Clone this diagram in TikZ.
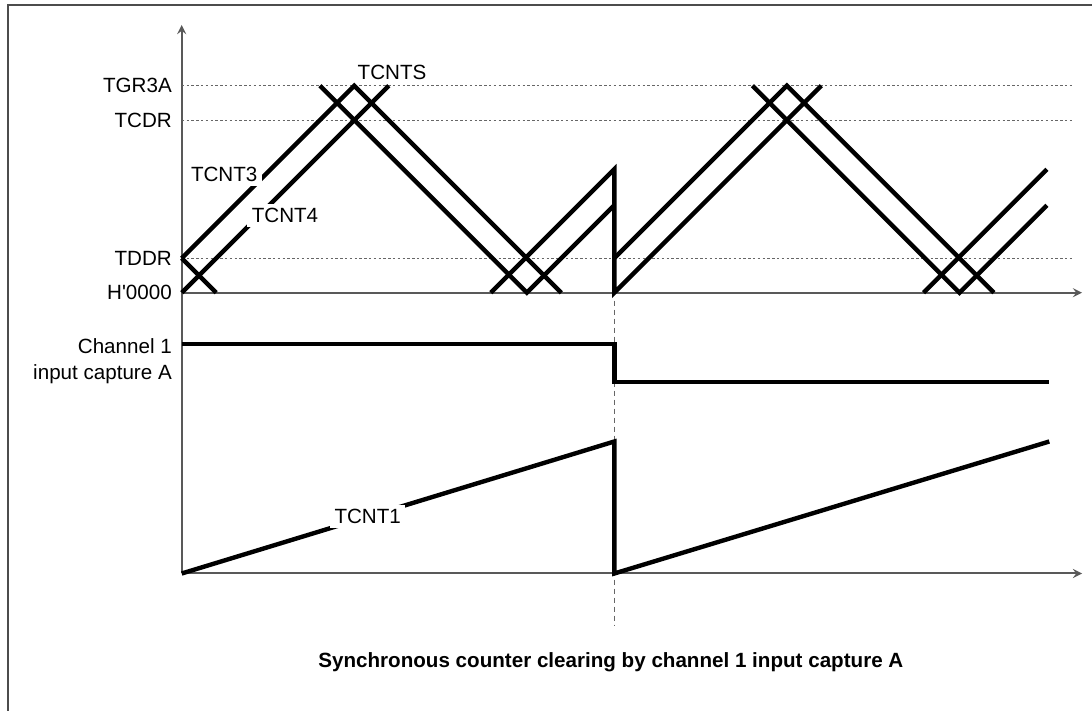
\documentclass[tikz,border=0pt]{standalone}
\usepackage{fontspec}
\setmainfont{Liberation Sans}

\begin{document}
\begin{tikzpicture}[
    x=0.5pt, y=0.5pt,
    >=stealth,
    wave/.style={line width=2.2pt},
    axisline/.style={line width=1pt, black!65},
    levelline/.style={line width=0.6pt, black!60, dash pattern=on 1.2pt off 1.2pt},
    tag/.style={font=\fontsize{10.3}{13}\selectfont, inner sep=0pt},
    cover/.style={tag, fill=white, inner sep=2.2pt}
]

\useasboundingbox (-181.7,-418.3) rectangle (910.3,292.7);

%------------------------------------------------
% Frame
%------------------------------------------------
\draw[line width=1pt, black!70] (-173.7,-418.3) -- (-173.7,287.2) -- (910.3,287.2);

%------------------------------------------------
% Axes
%------------------------------------------------
\draw[axisline, ->] (0,-280.8) -- (0,267.7);
\draw[axisline, ->] (0,0) -- (900.3,0);
\draw[axisline, ->] (0,-280.8) -- (900.3,-280.8);

%------------------------------------------------
% Register levels
%------------------------------------------------
\draw[levelline] (0,207) -- (890,207);
\node[tag, anchor=east] (tgr) at (-9.5,207) {TGR3A};

\draw[levelline] (0,172) -- (890,172);
\node[tag, anchor=east] (tcdr) at (-9.5,172) {TCDR};

\draw[levelline] (0,34.4) -- (890,34.4);
\node[tag, anchor=east] (tddr) at (-9.5,34.4) {TDDR};

\node[tag, anchor=east] (zero) at (-9.5,0) {H\textquotesingle 0000};

%------------------------------------------------
% Clearing instant
%------------------------------------------------
\draw[line width=0.6pt, black!60, dash pattern=on 2.5pt off 2pt]
    (432.6,-8) -- (432.6,-332.3);

%------------------------------------------------
% TCNT3 / TCNT4 / TCNTS
%------------------------------------------------
% upper rising lines
\draw[wave] (0,34.4) -- (172.6,207) -- (379.6,0);
\draw[wave] (432.6,34.4) -- (605.2,207) -- (812.2,0);

% lower rising lines, cleared at the capture
\draw[wave] (0,0) -- (207,207);
\draw[wave] (309.2,0) -- (432.6,123.4) -- (432.6,0) -- (639.6,207);
\draw[wave] (741.8,0) -- (865.2,123.4);

% falling lines
\draw[wave] (0,34.4) -- (34.4,0);
\draw[wave] (138.2,207) -- (345.2,0) -- (432.6,87.4);
\draw[wave] (570.8,207) -- (777.8,0) -- (865.2,87.4);

\node[cover] (tcnt3) at (42.5,118.4) {TCNT3};
\node[cover] (tcnt4) at (103.3,77.2) {TCNT4};
\node[tag] (tcnts) at (210.3,220.2) {TCNTS};

%------------------------------------------------
% Channel 1 input capture A
%------------------------------------------------
\draw[wave] (0,-51.3) -- (432.6,-51.3) -- (432.6,-89.3) -- (867.6,-89.3);
\node[tag, anchor=east, align=right] (capture) at (-9.5,-68.3)
    {Channel 1\\input capture A};

%------------------------------------------------
% TCNT1
%------------------------------------------------
\draw[wave] (0,-280.8) -- (432.6,-148.8) -- (432.6,-280.8) -- (867.6,-148.8);
\node[cover] (tcnt1) at (186,-224) {TCNT1};

%------------------------------------------------
% Caption
%------------------------------------------------
\node[tag, anchor=west, font=\fontsize{10.3}{13}\selectfont\bfseries] (caption)
    at (136.3,-369.8) {Synchronous counter clearing by channel 1 input capture A};

\end{tikzpicture}
\end{document}
